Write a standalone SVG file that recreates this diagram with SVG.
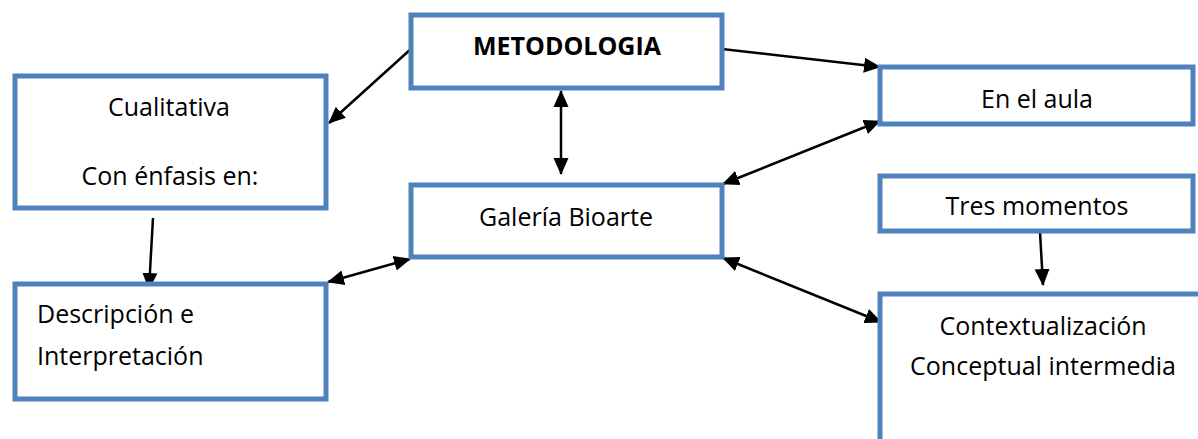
<svg xmlns="http://www.w3.org/2000/svg" width="1198" height="439" viewBox="0 0 1198 439">
<style>
.box{fill:#fff;stroke:#4f81bd;stroke-width:5}
.t{font-family:"Open Sans","Liberation Sans",sans-serif;font-size:25px;fill:#000}
.c{text-anchor:middle}
.b{font-weight:bold;font-size:25px}
.ln{stroke:#000;stroke-width:2.5;fill:none}
</style>
<defs>
<marker id="ah" markerUnits="userSpaceOnUse" markerWidth="17" markerHeight="17" viewBox="0 0 17 17" refX="16" refY="8.5" orient="auto-start-reverse">
<path d="M0,1 L17,8.5 L0,16 Z" fill="#000"/>
</marker>
</defs>
<rect width="1198" height="439" fill="#fff"/>
<g id="connectors">
<line class="ln" x1="412" y1="48" x2="329" y2="123" marker-end="url(#ah)"/>
<line class="ln" x1="722" y1="49" x2="880" y2="67" marker-end="url(#ah)"/>
<line class="ln" x1="561" y1="91" x2="561" y2="174" marker-start="url(#ah)" marker-end="url(#ah)"/>
<line class="ln" x1="723" y1="184" x2="880" y2="121" marker-start="url(#ah)" marker-end="url(#ah)"/>
<line class="ln" x1="153" y1="218" x2="149" y2="289" marker-end="url(#ah)"/>
<line class="ln" x1="328" y1="282" x2="410" y2="259" marker-start="url(#ah)" marker-end="url(#ah)"/>
<line class="ln" x1="723" y1="258" x2="881" y2="322" marker-start="url(#ah)" marker-end="url(#ah)"/>
<line class="ln" x1="1040" y1="232" x2="1043" y2="285" marker-end="url(#ah)"/>
</g>
<g id="metodologia">
<rect class="box" x="411" y="15" width="311" height="73"/>
<text class="t c b" x="567" y="55">METODOLOGIA</text>
</g>
<g id="cualitativa">
<rect class="box" x="15" y="76" width="311" height="132"/>
<text class="t c" x="169" y="116">Cualitativa</text>
<text class="t c" x="170" y="185">Con énfasis en:</text>
</g>
<g id="en-el-aula">
<rect class="box" x="880" y="67" width="313" height="57"/>
<text class="t c" x="1037" y="108">En el aula</text>
</g>
<g id="galeria">
<rect class="box" x="411" y="185" width="311" height="72"/>
<text class="t c" x="566" y="226">Galería Bioarte</text>
</g>
<g id="tres-momentos">
<rect class="box" x="880" y="176" width="313" height="55"/>
<text class="t c" x="1037" y="215">Tres momentos</text>
</g>
<g id="descripcion">
<rect class="box" x="15" y="284" width="311" height="115"/>
<text class="t" x="37" y="323">Descripción e</text>
<text class="t" x="37" y="365">Interpretación</text>
</g>
<g id="contextualizacion">
<rect class="box" x="880" y="294" width="340" height="160"/>
<text class="t c" x="1043" y="335">Contextualización</text>
<text class="t c" x="1043" y="375">Conceptual intermedia</text>
</g>
</svg>
